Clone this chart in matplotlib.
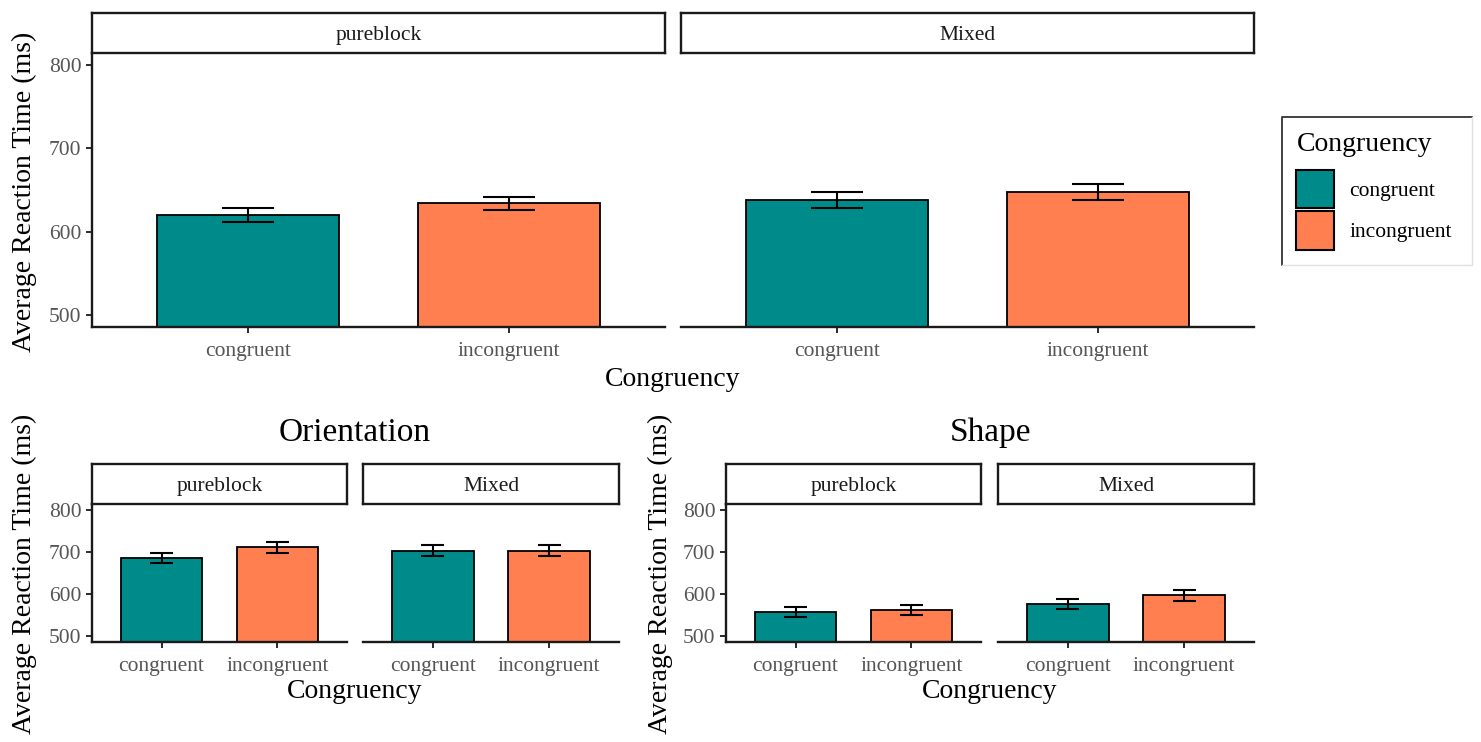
import numpy as np
import matplotlib
matplotlib.use('Agg')
import matplotlib.pyplot as plt
from matplotlib.patches import Patch
from matplotlib.lines import Line2D

plt.rcParams['font.family'] = ['Liberation Serif', 'DejaVu Serif']

conditions = ['congruent', 'incongruent']
blocks = ['pureblock', 'Mixed']
fill_colors = ['#008B8B', '#FF7F50']

# mean RT and standard error, all trials
all_pure = [620, 634]
all_pure_se = [8, 8]
all_mixed = [638, 648]
all_mixed_se = [9.5, 9.5]

# orientation task
orient_pure = [686, 711]
orient_pure_se = [12, 12]
orient_mixed = [703, 703]
orient_mixed_se = [13, 13]

# shape task
shape_pure = [557, 561]
shape_pure_se = [11.5, 11.5]
shape_mixed = [576, 597]
shape_mixed_se = [12.5, 13]

W, H = 1481, 742
fig = plt.figure(figsize=(W / 100, H / 100), dpi=100)
fig.patch.set_facecolor('white')

tick_col = '#555555'


def box(x0, y0, x1, y1):
    return [x0 / W, 1 - y1 / H, (x1 - x0) / W, (y1 - y0) / H]


def strip(x0, y0, x1, y1, label):
    s = fig.add_axes(box(x0, y0, x1, y1))
    s.set_xticks([])
    s.set_yticks([])
    for sp in s.spines.values():
        sp.set_linewidth(1.7)
        sp.set_color('#1a1a1a')
    s.text(0.5, 0.44, label, ha='center', va='center', fontsize=15.5,
           color='#1a1a1a', transform=s.transAxes)


def panel(x0, y0, x1, y1, means, errs, show_y):
    ax = fig.add_axes(box(x0, y0, x1, y1))
    ax.patch.set_alpha(0)
    x = np.arange(1, 3)
    ax.bar(x, means, width=0.7, color=fill_colors, edgecolor='black',
           linewidth=1.3, zorder=2)
    for xi, m, e in zip(x, means, errs):
        ax.vlines(xi, m - e, m + e, color='black', lw=1.5, zorder=3)
        ax.hlines([m - e, m + e], xi - 0.1, xi + 0.1, color='black', lw=1.5, zorder=3)
    ax.set_xlim(0.4, 2.6)
    ax.set_ylim(485, 815)
    ax.set_xticks(x)
    ax.set_xticklabels(conditions, fontsize=15.5, color=tick_col)
    ax.spines['top'].set_visible(False)
    ax.spines['right'].set_visible(False)
    ax.spines['bottom'].set_linewidth(1.7)
    ax.spines['bottom'].set_color('#1a1a1a')
    ax.tick_params(axis='x', length=4.5, width=1.3, color='#1a1a1a', pad=6)
    if show_y:
        ax.set_yticks([500, 600, 700, 800])
        ax.set_yticklabels(['500', '600', '700', '800'], fontsize=15.5, color=tick_col)
        ax.spines['left'].set_linewidth(1.7)
        ax.spines['left'].set_color('#1a1a1a')
        ax.tick_params(axis='y', length=4.5, width=1.3, color='#1a1a1a', pad=3)
    else:
        ax.spines['left'].set_visible(False)
        ax.set_yticks([])
    return ax


def facet_row(cols, top, strip_top, strip_bot, pure, pure_se, mixed, mixed_se):
    series = [(pure, pure_se), (mixed, mixed_se)]
    for i, ((x0, x1), blk, (m, e)) in enumerate(zip(cols, blocks, series)):
        panel(x0, strip_bot, x1, top, m, e, i == 0)
        strip(x0, strip_top, x1, strip_bot, blk)


# top row: all trials
facet_row([(92, 665), (681, 1254)], 327, 13, 53,
          all_pure, all_pure_se, all_mixed, all_mixed_se)
fig.text(673 / W, 1 - 379 / H, 'Congruency', ha='center', va='center', fontsize=20)
fig.text(24 / W, 1 - 192 / H, 'Average Reaction Time (ms)', ha='center',
         va='center', rotation=90, fontsize=20)

# bottom row: orientation and shape tasks
facet_row([(92, 347), (363, 619)], 642, 464, 504,
          orient_pure, orient_pure_se, orient_mixed, orient_mixed_se)
facet_row([(726, 981), (998, 1254)], 642, 464, 504,
          shape_pure, shape_pure_se, shape_mixed, shape_mixed_se)

for cx, ylx, title in [(355, 24, 'Orientation'), (990, 660, 'Shape')]:
    fig.text(cx / W, 1 - 433 / H, title, ha='center', va='center', fontsize=24)
    fig.text(cx / W, 1 - 692 / H, 'Congruency', ha='center', va='center', fontsize=20)
    fig.text(ylx / W, 1 - 574 / H, 'Average Reaction Time (ms)', ha='center',
             va='center', rotation=90, fontsize=20)

# legend with its own frame
lx0, ly0, lx1, ly1 = 1282, 117, 1472, 265
fig.add_artist(Line2D([lx0 / W, lx0 / W, lx1 / W], [1 - ly1 / H, 1 - ly0 / H, 1 - ly0 / H],
                      color='#333333', lw=1.3))
fig.add_artist(Line2D([lx0 / W, lx1 / W, lx1 / W], [1 - ly1 / H, 1 - ly1 / H, 1 - ly0 / H],
                      color='#e0e0e0', lw=1.0))
handles = [Patch(facecolor=c, edgecolor='black', linewidth=1.5, label=l)
           for c, l in zip(fill_colors, conditions)]
leg = fig.legend(handles=handles, title='Congruency', loc='upper left',
                 bbox_to_anchor=((lx0 + 8) / W, 1 - (ly0 + 9) / H), frameon=False,
                 fontsize=15.5, title_fontsize=20, handlelength=1.75, handleheight=2.35,
                 labelspacing=0.15, handletextpad=0.7, borderaxespad=0, borderpad=0.3)
leg._legend_box.align = 'left'
leg._legend_box.sep = 9

fig.savefig('out.png', dpi=100, facecolor='white')
